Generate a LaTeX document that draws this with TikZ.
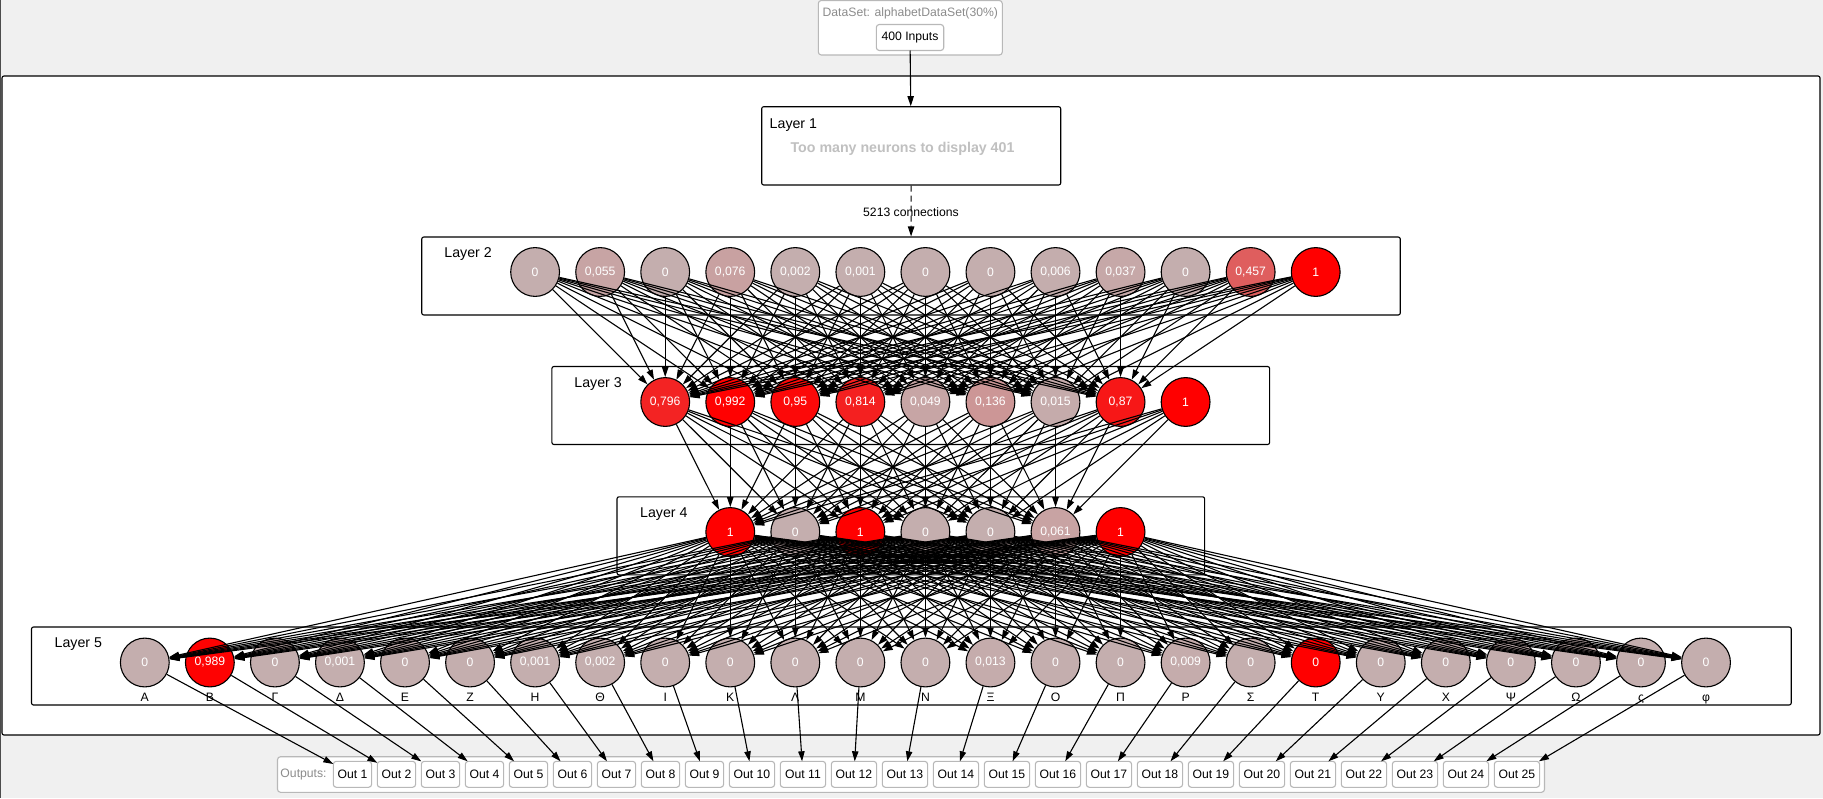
\documentclass[tikz,border=0pt]{standalone}
\usepackage{fontspec}
\setmainfont{Liberation Sans}
\usetikzlibrary{arrows.meta,positioning}
\definecolor{panelgray}{RGB}{240,240,240}
\definecolor{nrngray}{RGB}{196,174,174}
\definecolor{framegray}{RGB}{184,184,184}
\definecolor{labelgray}{RGB}{140,140,140}
\definecolor{notegray}{RGB}{192,192,192}
\newcommand{\nfont}{\fontsize{6.1}{7}\selectfont}
\newcommand{\lfont}{\fontsize{7.1}{8}\selectfont}

\begin{document}
\begin{tikzpicture}[x=0.5pt,y=-0.5pt,
    neuron/.style={circle,draw,line width=0.55pt,fill=nrngray,text=white,
      minimum size=24.4pt,inner sep=0pt,font=\nfont},
    layerbox/.style={draw,line width=0.55pt,fill=white,rounded corners=1pt,
      minimum height=39pt},
    iobox/.style={draw=framegray,line width=0.55pt,fill=white,rounded corners=1.5pt,
      minimum height=13pt,minimum width=19.15pt,inner sep=0pt,outer sep=0pt,font=\nfont},
    lname/.style={anchor=west,inner sep=0pt,font=\lfont},
    sym/.style={anchor=base,inner sep=0pt,font=\nfont},
    conn/.style={-{Triangle[length=5pt,width=3.2pt]},line width=0.55pt}]
  \fill[panelgray] (0,0) rectangle (1823,798);
  \useasboundingbox (0,0) rectangle (1823,798);
  \draw[gray!60!black,line width=0.6pt] (0.5,0) -- (0.5,798);
  \draw[line width=0.55pt,fill=white,rounded corners=1pt] (2,76) rectangle (1820,735);

  % data set
  \draw[framegray,line width=0.55pt,fill=white,rounded corners=1.5pt] (818.3,0.5) rectangle (1002.3,55);
  \node[font=\nfont,text=labelgray,inner sep=0pt] (dsname) at (910.3,13.3) {DataSet: alphabetDataSet(30\%)};
  \node[iobox,minimum width=33.7pt] (inputs) at (910,37.5) {400 Inputs};

  % layers
  \node[layerbox,minimum width=149.5pt,minimum height=39.15pt] (L1) at (911.2,145.85) {};
  \node[lname] (t1) at (769.3,125) {Layer 1};
  \node[font=\lfont\bfseries,text=notegray,inner sep=0pt] (note) at (902.5,149) {Too many neurons to display 401};
  \node[layerbox,minimum width=489.25pt] (L2) at (911,276) {};
  \node[layerbox,minimum width=358.85pt] (L3) at (910.75,405.5) {};
  \node[layerbox,minimum width=293.8pt] (L4) at (910.8,535.8) {};
  \node[layerbox,minimum width=879.85pt] (L5) at (911.35,666) {};
  \node[lname] (t2) at (444,254) {Layer 2};
  \node[lname] (t3) at (574,384) {Layer 3};
  \node[lname] (t4) at (639.7,514.3) {Layer 4};
  \node[lname] (t5) at (54.3,644) {Layer 5};

  \draw
    (535.1,272) node[neuron] (a0){0}
    (600.15,272) node[neuron,fill=red!5.5!nrngray] (a1){0,055}
    (665.2,272) node[neuron] (a2){0}
    (730.25,272) node[neuron,fill=red!7.6!nrngray] (a3){0,076}
    (795.3,272) node[neuron,fill=red!0.2!nrngray] (a4){0,002}
    (860.35,272) node[neuron,fill=red!0.1!nrngray] (a5){0,001}
    (925.4,272) node[neuron] (a6){0}
    (990.45,272) node[neuron] (a7){0}
    (1055.5,272) node[neuron,fill=red!0.6!nrngray] (a8){0,006}
    (1120.55,272) node[neuron,fill=red!3.7!nrngray] (a9){0,037}
    (1185.6,272) node[neuron] (a10){0}
    (1250.65,272) node[neuron,fill=red!45.7!nrngray] (a11){0,457}
    (1315.7,272) node[neuron,fill=red] (a12){1};
  \draw
    (665.2,402) node[neuron,fill=red!79.6!nrngray] (b0){0,796}
    (730.25,402) node[neuron,fill=red!99.2!nrngray] (b1){0,992}
    (795.3,402) node[neuron,fill=red!95!nrngray] (b2){0,95}
    (860.35,402) node[neuron,fill=red!81.4!nrngray] (b3){0,814}
    (925.4,402) node[neuron,fill=red!4.9!nrngray] (b4){0,049}
    (990.45,402) node[neuron,fill=red!13.6!nrngray] (b5){0,136}
    (1055.5,402) node[neuron,fill=red!1.5!nrngray] (b6){0,015}
    (1120.55,402) node[neuron,fill=red!87!nrngray] (b7){0,87}
    (1185.6,402) node[neuron,fill=red] (b8){1};
  \draw
    (730.25,532) node[neuron,fill=red] (c0){1}
    (795.3,532) node[neuron] (c1){0}
    (860.35,532) node[neuron,fill=red] (c2){1}
    (925.4,532) node[neuron] (c3){0}
    (990.45,532) node[neuron] (c4){0}
    (1055.5,532) node[neuron,fill=red!6.1!nrngray] (c5){0,061}
    (1120.55,532) node[neuron,fill=red] (c6){1};
  \draw
    (144.8,662.5) node[neuron] (d0){0}
    (209.85,662.5) node[neuron,fill=red!98.9!nrngray] (d1){0,989}
    (274.9,662.5) node[neuron] (d2){0}
    (339.95,662.5) node[neuron,fill=red!0.1!nrngray] (d3){0,001}
    (405.0,662.5) node[neuron] (d4){0}
    (470.05,662.5) node[neuron] (d5){0}
    (535.1,662.5) node[neuron,fill=red!0.1!nrngray] (d6){0,001}
    (600.15,662.5) node[neuron,fill=red!0.2!nrngray] (d7){0,002}
    (665.2,662.5) node[neuron] (d8){0}
    (730.25,662.5) node[neuron] (d9){0}
    (795.3,662.5) node[neuron] (d10){0}
    (860.35,662.5) node[neuron] (d11){0}
    (925.4,662.5) node[neuron] (d12){0}
    (990.45,662.5) node[neuron,fill=red!1.3!nrngray] (d13){0,013}
    (1055.5,662.5) node[neuron] (d14){0}
    (1120.55,662.5) node[neuron] (d15){0}
    (1185.6,662.5) node[neuron,fill=red!0.9!nrngray] (d16){0,009}
    (1250.65,662.5) node[neuron] (d17){0}
    (1315.7,662.5) node[neuron,fill=red] (d18){0}
    (1380.75,662.5) node[neuron] (d19){0}
    (1445.8,662.5) node[neuron] (d20){0}
    (1510.85,662.5) node[neuron] (d21){0}
    (1575.9,662.5) node[neuron] (d22){0}
    (1640.95,662.5) node[neuron] (d23){0}
    (1706.0,662.5) node[neuron] (d24){0};
  \foreach \g [count=\i from 0] in {Α,Β,Γ,Δ,Ε,Ζ,Η,Θ,Ι,Κ,Λ,Μ,Ν,Ξ,Ο,Π,Ρ,Σ,Τ,Υ,Χ,Ψ,Ω,ς,φ}
    \node[sym] (s\i) at ({144.8+65.05*\i},701.7) {\g};

  % outputs
  \draw[framegray,line width=0.55pt,fill=white,rounded corners=1.5pt] (277.5,756.7) rectangle (1544.5,792.3);
  \foreach \k in {1,...,9}
    \node[iobox] (o\k) at ({352.45+44*(\k-1)},774.3) {Out \k};
  \foreach \k in {10,...,25}
    \node[iobox,minimum width=22.65pt] (o\k) at ({751.95+51*(\k-10)},774.3) {Out \k};
  \node[font=\nfont,text=labelgray,inner sep=0pt,left=3.15pt of o1] (olabel) {Outputs:};

  \node[font=\nfont,inner sep=0pt] (nconn) at (911,211.7) {5213 connections};
  \begin{scope}[conn]
    \draw (inputs) -- (L1);
    \draw[dash pattern=on 3pt off 2pt] (L1) -- (L2);
    \foreach \i in {0,...,12} \foreach \j in {0,...,7} \draw (a\i) -- (b\j);
    \foreach \i in {0,...,8} \foreach \j in {0,...,5} \draw (b\i) -- (c\j);
    \foreach \i in {0,...,6} \foreach \j in {0,...,24} \draw (c\i) -- (d\j);
    \foreach \k [count=\j from 0] in {1,...,25} \draw (d\j) -- (o\k);
  \end{scope}
\end{tikzpicture}
\end{document}
